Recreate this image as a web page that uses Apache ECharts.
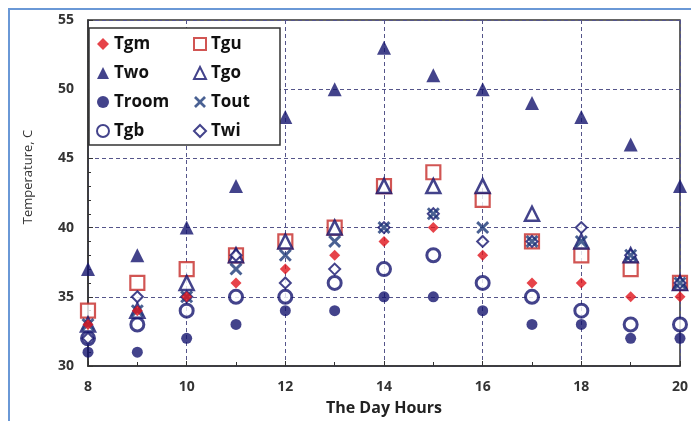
<!DOCTYPE html>
<html>
<head>
<meta charset="utf-8">
<script src="https://cdn.jsdelivr.net/npm/echarts@6/dist/echarts.min.js"></script>
<style>html,body{margin:0;padding:0;background:#fff;}#c{width:691px;height:421px;}</style>
</head>
<body>
<div id="c"></div>
<script>
const hours = [8, 9, 10, 11, 12, 13, 14, 15, 16, 17, 18, 19, 20];
const Tgm   = [33, 34, 35, 36, 37, 38, 39, 40, 38, 36, 36, 35, 35];
const Tgu   = [34, 36, 37, 38, 39, 40, 43, 44, 42, 39, 38, 37, 36];
const Two   = [37, 38, 40, 43, 48, 50, 53, 51, 50, 49, 48, 46, 43];
const Tgo   = [33, 34, 36, 38, 39, 40, 43, 43, 43, 41, 39, 38, 36];
const Troom = [31, 31, 32, 33, 34, 34, 35, 35, 34, 33, 33, 32, 32];
const Tout  = [33, 34, 35, 37, 38, 39, 40, 41, 40, 39, 39, 38, 36];
const Tgb   = [32, 33, 34, 35, 35, 36, 37, 38, 36, 35, 34, 33, 33];
const Twi   = [32, 35, 35, 38, 36, 37, 40, 41, 39, 39, 40, 38, 36];
const xTicks = [8, 10, 12, 14, 16, 18, 20];
const yTicks = [30, 35, 40, 45, 50, 55];

const NAVY = '#14146e';
const RED = '#e0141c';
const SQRED = '#c62a28';
const XPATH = 'path://M0,1.6 L1.6,0 L5,3.4 L8.4,0 L10,1.6 L6.6,5 L10,8.4 L8.4,10 L5,6.6 L1.6,10 L0,8.4 L3.4,5 Z';

function pts(arr){ return hours.map((h,i)=>[h, arr[i]]); }
function ser(name, arr, symbol, size, style, z){
  return {name, type:'scatter', data:pts(arr), symbol, symbolSize:size, itemStyle:style, z:z||2};
}

const series = [
  ser('Troom', Troom, 'circle', 11, {color:NAVY}, 2),
  ser('Tgb', Tgb, 'circle', 13, {color:'#fff', borderColor:NAVY, borderWidth:3}, 3),
  ser('Tgu', Tgu, 'rect', 14, {color:'#fff', borderColor:SQRED, borderWidth:2.2}, 3),
  ser('Tgo', Tgo, 'triangle', 14, {color:'#fff', borderColor:NAVY, borderWidth:2.5}, 4),
  ser('Twi', Twi, 'diamond', 11, {color:'#fff', borderColor:NAVY, borderWidth:2}, 4),
  ser('Tout', Tout, XPATH, 13, {color:'#1d3a78'}, 5),
  ser('Tgm', Tgm, 'diamond', 11, {color:RED}, 5),
  ser('Two', Two, 'triangle', 14, {color:NAVY}, 5)
];

const FONT = 'Open Sans, DejaVu Sans, sans-serif';
const legendText = {fontFamily:FONT, fontSize:17, fontWeight:'bold', color:'#111', lineHeight:18};
const chart = echarts.init(document.getElementById('c'), null, {renderer:'canvas'});
chart.setOption({
  animation:false,
  backgroundColor:'#fff',
  grid:{left:88, right:8, top:20, bottom:53, show:true, borderColor:'#333', borderWidth:1.5, backgroundColor:'transparent'},
  graphic:[
    {type:'rect', shape:{x:9, y:9, width:700, height:430}, style:{fill:'none', stroke:'#6a98d6', lineWidth:2}, z:0, silent:true},
    {type:'rect', shape:{x:89, y:28, width:191, height:117}, style:{fill:'#fff', stroke:'#333', lineWidth:1.5}, z:10, silent:true},
    {type:'text', x:28, y:177, rotation:Math.PI/2, z:10, silent:true,
     style:{text:'Temperature, C', fontFamily:FONT, fontSize:13, fill:'#333', textAlign:'center', textVerticalAlign:'middle'}}
  ],
  legend:[
    {data:['Tgm','Two','Troom','Tgb'], orient:'vertical', left:91, top:30, itemWidth:12, itemHeight:12, itemGap:11, textStyle:legendText, z:20, selectedMode:false},
    {data:['Tgu','Tgo','Tout','Twi'], orient:'vertical', left:188, top:30, itemWidth:12, itemHeight:12, itemGap:11, textStyle:legendText, z:20, selectedMode:false}
  ],
  xAxis:{
    type:'value', min:xTicks[0], max:xTicks[xTicks.length-1], interval:2,
    name:'The Day Hours', nameLocation:'middle', nameGap:34,
    nameTextStyle:{fontFamily:FONT, fontSize:16, fontWeight:'bold', color:'#222'},
    axisLine:{lineStyle:{color:'#333', width:1.5}},
    axisTick:{inside:true, length:5, lineStyle:{color:'#333'}},
    minorTick:{show:true, splitNumber:2, length:4, lineStyle:{color:'#333'}},
    axisLabel:{fontFamily:FONT, fontSize:14, fontWeight:'bold', color:'#333', margin:14},
    splitLine:{show:true, lineStyle:{color:'#55558a', type:[4,3], width:1}}
  },
  yAxis:{
    type:'value', min:yTicks[0], max:yTicks[yTicks.length-1], interval:5,
    axisLine:{show:true, lineStyle:{color:'#333', width:1.5}},
    axisTick:{show:true, inside:true, length:5, lineStyle:{color:'#333'}},
    minorTick:{show:true, splitNumber:5, length:3, lineStyle:{color:'#333'}},
    axisLabel:{fontFamily:FONT, fontSize:14, fontWeight:'bold', color:'#333', margin:14},
    splitLine:{show:true, lineStyle:{color:'#55558a', type:[4,3], width:1}}
  },
  series
});
</script>
</body>
</html>
